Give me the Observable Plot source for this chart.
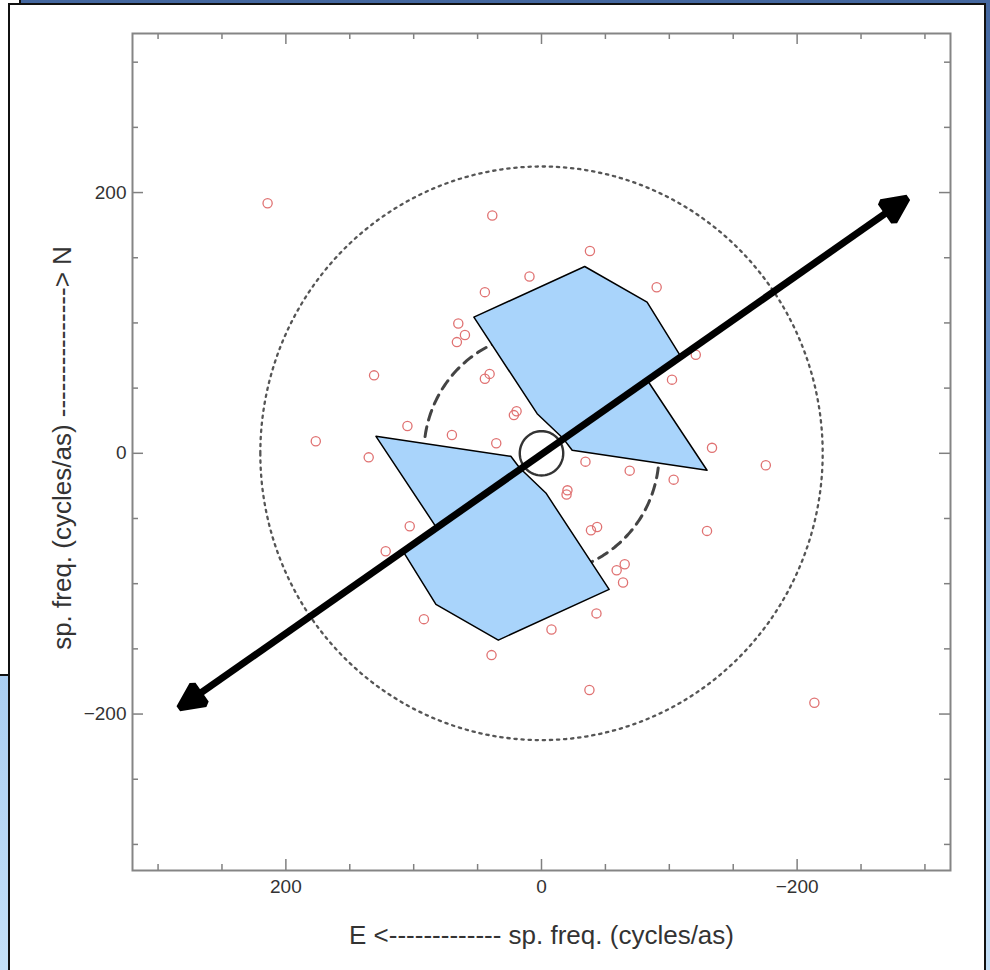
<!DOCTYPE html>
<html><head><meta charset="utf-8">
<script src="https://cdn.jsdelivr.net/npm/d3@7"></script>
<script src="https://cdn.jsdelivr.net/npm/@observablehq/plot@0.6"></script>
<style>
html,body{margin:0;padding:0;width:990px;height:970px;overflow:hidden;}
body{position:relative;background:linear-gradient(to bottom,#44679f 0%,#6c95cc 40%,#a9cdf1 68%,#c4e0f8 100%);font-family:"Liberation Sans",Arial,sans-serif;}
#back{position:absolute;left:0;top:0;width:19px;height:674px;background:#fff;border-right:2px solid #111;border-bottom:2px solid #111;}
#panel{position:absolute;left:8px;top:3px;width:974px;height:966px;background:#fff;border:2px solid #111;}
#chart{position:absolute;left:0;top:0;}
</style></head>
<body>
<div id="back"></div>
<div id="panel"></div>
<div id="chart"></div>
<script>
// ---- data ----
const uvU = [214.3,-213.5, 38.5,-37.5, -37.9,39.1, 9.4,-7.8, -90.1,92.0, 44.3,-43.0, 65.1,-63.8, 59.9,-58.8, 66.2,-65.1, -120.7,121.9, 131.0,-129.5, 40.6,-38.7, 44.3,-43.5, -102.1,103.1, 21.6,-20.3, 19.5,-19.6, 104.9,-103.4, 70.1,-69.0, 176.6,-175.5, 35.4,-34.4, 135.2,-133.4];
const uvV = [191.8,-191.3, 182.4,-181.6, 155.2,-154.8, 135.6,-135.1, 127.4,-127.2, 123.6,-122.8, 99.6,-99.1, 90.7,-89.7, 85.3,-85.1, 75.6,-75.1, 59.8,-59.5, 60.9,-59.0, 57.2,-56.5, 56.5,-55.9, 29.3,-28.4, 32.2,-31.6, 20.9,-20.2, 14.0,-13.3, 9.2,-9.2, 7.7,-6.4, -3.1,4.2];

const upperPolyX = [52.9,-33.8,-82.6,-108.9,-82.7,-129.5,-24.0,-17.2,3.4];
const upperPolyY = [104.4,143.3,115.9,74.3,56.2,-13.0,2.3,11.1,30.4];
const lowerPolyX = [-52.9,33.8,82.6,108.9,82.7,129.5,24.0,17.2,-3.4];
const lowerPolyY = [-104.4,-143.3,-115.9,-74.3,-56.2,13.0,-2.3,-11.1,-30.4];

const arrowTipX = [282.5,-285.4];
const arrowTipY = [-194.8,195.2];

const dottedR = 220;          // outer dotted circle
const dashedR = 92;           // dashed arcs
const dashedArcs = [[8,95],[187,275]];  // degrees
const innerR = 17;            // small solid circle

const axisTicks = [-300,-250,-200,-150,-100,-50,0,50,100,150,200,250,300];
const labelTicks = [-200,0,200];
const xLabel = "E <------------- sp. freq. (cycles/as)";
const yLabel = "sp. freq. (cycles/as) ---------------> N";

// ---- layout ----
const W = 990, H = 970, mL = 132, mR = 40, mT = 33, mB = 100;
const fw = W - mL - mR, fh = H - mT - mB;
const minorLen = 6, majorLen = 11;
const tickColor = "#808080";
const minorTicks = axisTicks.filter(t => !labelTicks.includes(t));

const points = uvU.map((u, i) => ({u, v: uvV[i]}));
const closed = (xs, ys) => xs.concat([xs[0]]).map((x, i) => ({x, y: ys.concat([ys[0]])[i]}));
const ring = (r, a0, a1, n) => d3.range(n + 1).map(i => {
  const a = (a0 + (a1 - a0) * i / n) * Math.PI / 180;
  return {x: r * Math.cos(a), y: r * Math.sin(a)};
});
const fmt = d => d < 0 ? "\u2212" + (-d) : String(d);

function head(orient) {
  return (color) => {
    const ns = "http://www.w3.org/2000/svg";
    const m = document.createElementNS(ns, "marker");
    m.setAttribute("viewBox", "-20 -13 32 26");
    m.setAttribute("markerWidth", 32);
    m.setAttribute("markerHeight", 26);
    m.setAttribute("markerUnits", "userSpaceOnUse");
    m.setAttribute("refX", 0);
    m.setAttribute("refY", 0);
    m.setAttribute("orient", orient);
    m.setAttribute("overflow", "visible");
    const p = document.createElementNS(ns, "path");
    p.setAttribute("d", "M9,0L-15,-11.5L-15,11.5Z");
    p.setAttribute("fill", color);
    m.appendChild(p);
    return m;
  };
}
const f = 0.982;

const chart = Plot.plot({
  width: W, height: H,
  marginLeft: mL, marginRight: mR, marginTop: mT, marginBottom: mB,
  style: {background: "transparent", fontFamily: "'Liberation Sans', Arial, sans-serif"},
  x: {domain: [320, -320], axis: null},
  y: {domain: [-320, 322], axis: null},
  marks: [
    // ticks (inward)
    Plot.tickX(minorTicks, {x: d => d, insetTop: fh - minorLen, stroke: tickColor, strokeWidth: 1.5}),
    Plot.tickX(minorTicks, {x: d => d, insetBottom: fh - minorLen, stroke: tickColor, strokeWidth: 1.5}),
    Plot.tickX(labelTicks, {x: d => d, insetTop: fh - majorLen, stroke: tickColor, strokeWidth: 1.5}),
    Plot.tickX(labelTicks, {x: d => d, insetBottom: fh - majorLen, stroke: tickColor, strokeWidth: 1.5}),
    Plot.tickY(minorTicks, {y: d => d, insetRight: fw - minorLen, stroke: tickColor, strokeWidth: 1.5}),
    Plot.tickY(minorTicks, {y: d => d, insetLeft: fw - minorLen, stroke: tickColor, strokeWidth: 1.5}),
    Plot.tickY(labelTicks, {y: d => d, insetRight: fw - majorLen, stroke: tickColor, strokeWidth: 1.5}),
    Plot.tickY(labelTicks, {y: d => d, insetLeft: fw - majorLen, stroke: tickColor, strokeWidth: 1.5}),
    Plot.frame({stroke: "#858585", strokeWidth: 2}),
    // tick labels
    Plot.text(labelTicks, {x: d => d, frameAnchor: "bottom", dy: 22, text: fmt, fontSize: 19, fill: "#333"}),
    Plot.text(labelTicks, {y: d => d, frameAnchor: "left", textAnchor: "end", dx: -6, text: fmt, fontSize: 19, fill: "#333"}),
    // axis labels
    Plot.text([xLabel], {frameAnchor: "bottom", textAnchor: "middle", dy: 73, text: d => d, fontSize: 26, fill: "#333"}),
    Plot.text([yLabel], {frameAnchor: "left", textAnchor: "middle", dx: -70, dy: -4, rotate: -90, text: d => d, fontSize: 26, fill: "#333"}),
    // circles
    Plot.line(ring(dottedR, 0, 360, 360), {x: "x", y: "y", stroke: "#555", strokeWidth: 2.3, strokeDasharray: "2.3,4.8"}),
    ...dashedArcs.map(([a0, a1]) => Plot.line(ring(dashedR, a0, a1, 90), {x: "x", y: "y", stroke: "#444", strokeWidth: 3, strokeDasharray: "10,7"})),
    // uv points
    Plot.dot(points, {x: "u", y: "v", r: 4.6, stroke: "#e07272", strokeWidth: 1.3, fill: "none"}),
    // blue shapes
    Plot.line(closed(upperPolyX, upperPolyY), {x: "x", y: "y", fill: "#a9d4fb", stroke: "#000", strokeWidth: 1.5, curve: "linear"}),
    Plot.line(closed(lowerPolyX, lowerPolyY), {x: "x", y: "y", fill: "#a9d4fb", stroke: "#000", strokeWidth: 1.5, curve: "linear"}),
    // small central circle
    Plot.line(ring(innerR, 0, 360, 72), {x: "x", y: "y", stroke: "#333", strokeWidth: 2.4}),
    // double arrow
    Plot.link([0], {
      x1: () => arrowTipX[0] * f, y1: () => arrowTipY[0] * f,
      x2: () => arrowTipX[1] * f, y2: () => arrowTipY[1] * f,
      stroke: "#000", strokeWidth: 7,
      markerStart: head("auto-start-reverse"), markerEnd: head("auto")
    })
  ]
});
document.getElementById("chart").appendChild(chart);
</script>
</body></html>
